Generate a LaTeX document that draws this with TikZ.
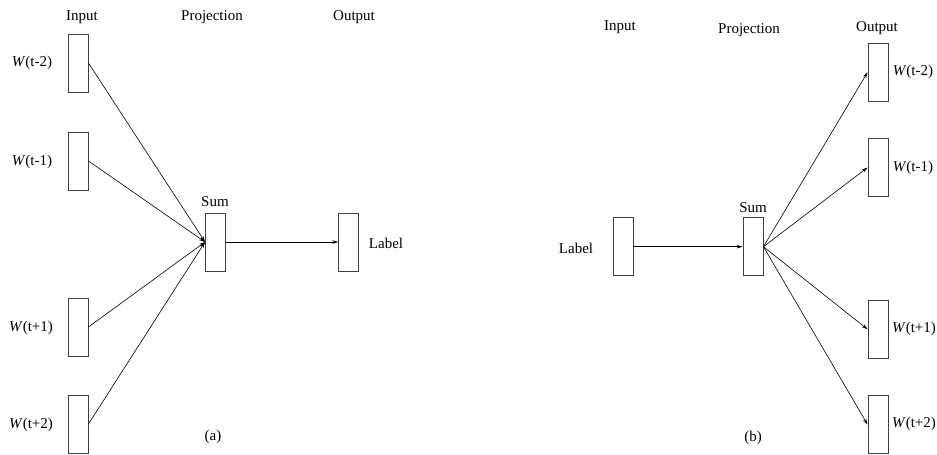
\documentclass[tikz,border=0pt]{standalone}
\usepackage{fontspec}
\setmainfont{Liberation Serif}
\usetikzlibrary{arrows.meta}
\begin{document}
\begin{tikzpicture}[x=1pt,y=-1pt,
  vbox/.style={draw=black!75,line width=0.9pt,minimum width=20pt,minimum height=58pt,inner sep=0pt},
  txt/.style={inner sep=0pt,font=\fontsize{15}{18}\selectfont},
  arr/.style={line width=0.6pt,-{Stealth[length=6pt,width=3.5pt]}}]
\useasboundingbox (0,0) rectangle (937,455);
% ---- (a) ----
\node[txt] (ain) at (82,17) {Input};
\node[txt] (aproj) at (212,17) {Projection};
\node[txt] (aout) at (354,17) {Output};
\node[vbox] (a1) at (78,63) {};
\node[vbox] (a2) at (78,161) {};
\node[vbox] (a3) at (78,327) {};
\node[vbox] (a4) at (78,424) {};
\node[txt] (la1) at (32,63) {\textit{W}(t-2)};
\node[txt] (la2) at (32,162) {\textit{W}(t-1)};
\node[txt] (la3) at (31,328) {\textit{W}(t+1)};
\node[txt] (la4) at (31,425) {\textit{W}(t+2)};
\node[vbox] (asum) at (215.5,242) {};
\node[txt] (asumt) at (215,202) {Sum};
\node[vbox] (alab) at (348.7,242) {};
\node[txt] (alabt) at (386,243) {Label};
\node[txt] (acap) at (213,437) {(a)};
\foreach \i in {1,...,4} \draw[arr] (a\i.east) -- (asum.west);
\draw[arr] (asum.east) -- (alab.west);
% ---- (b) ----
\node[txt] (bin) at (620,27) {Input};
\node[txt] (bproj) at (749,30) {Projection};
\node[txt] (bout) at (877,28) {Output};
\node[vbox] (b1) at (878,72.3) {};
\node[vbox] (b2) at (878,167.5) {};
\node[vbox] (b3) at (878,329.3) {};
\node[vbox] (b4) at (878,424.5) {};
\node[txt] (lb1) at (913,72) {\textit{W}(t-2)};
\node[txt] (lb2) at (913,168) {\textit{W}(t-1)};
\node[txt] (lb3) at (914,329) {\textit{W}(t+1)};
\node[txt] (lb4) at (914,424) {\textit{W}(t+2)};
\node[vbox] (bsum) at (753,246.7) {};
\node[txt] (bsumt) at (753,208) {Sum};
\node[vbox] (blab) at (623,246.7) {};
\node[txt] (blabt) at (576,248) {Label};
\node[txt] (bcap) at (753,438) {(b)};
\draw[arr] (blab.east) -- (bsum.west);
\foreach \i in {1,...,4} \draw[arr] (bsum.east) -- (b\i.west);
\end{tikzpicture}
\end{document}
